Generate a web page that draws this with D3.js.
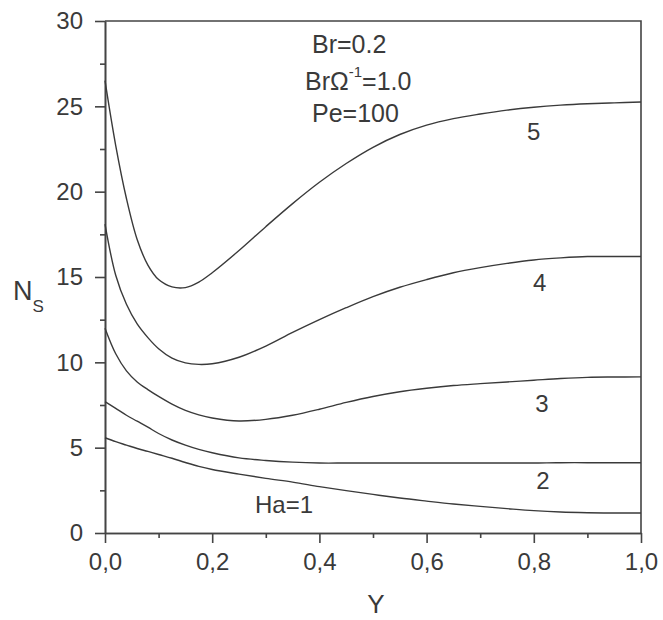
<!DOCTYPE html>
<html>
<body>
<script src="https://d3js.org/d3.v7.min.js"></script>
<style>

body {
    margin: 0;
    background: #fff;
}

svg text {
    font-family: "Liberation Sans", Arial, sans-serif;
    fill: #3a3a3a;
}

.axis path,
.axis line,
.frame {
    stroke: #444;
    stroke-width: 1.6;
    fill: none;
}

.curve {
    fill: none;
    stroke: #3a3a3a;
    stroke-width: 1.4;
}

</style>

<script>

var yPoints = [0, 0.02, 0.04, 0.06, 0.08, 0.1, 0.125, 0.15, 0.175, 0.2, 0.25, 0.3, 0.35,
               0.4, 0.45, 0.5, 0.55, 0.6, 0.65, 0.7, 0.75, 0.8, 0.85, 0.9, 0.95, 1.0];

// entropy generation number Ns, one array per Hartmann number
var ha1 = [5.58, 5.35, 5.15, 4.95, 4.78, 4.6, 4.38, 4.13, 3.9, 3.72, 3.45, 3.2, 2.98,
           2.72, 2.48, 2.26, 2.05, 1.87, 1.7, 1.56, 1.43, 1.31, 1.23, 1.19, 1.17, 1.17];
var ha2 = [7.7, 7.3, 6.9, 6.55, 6.2, 5.83, 5.45, 5.15, 4.9, 4.7, 4.4, 4.25, 4.15,
           4.1, 4.1, 4.1, 4.1, 4.1, 4.1, 4.1, 4.1, 4.1, 4.12, 4.12, 4.12, 4.12];
var ha3 = [12.0, 10.5, 9.5, 8.85, 8.4, 8.0, 7.55, 7.18, 6.92, 6.74, 6.56, 6.66, 6.9,
           7.25, 7.65, 8.0, 8.28, 8.48, 8.64, 8.75, 8.85, 8.95, 9.05, 9.12, 9.14, 9.15];
var ha4 = [18.1, 15.1, 13.4, 12.25, 11.45, 10.8, 10.25, 9.97, 9.88, 9.92, 10.3, 10.95, 11.75,
           12.5, 13.2, 13.85, 14.4, 14.85, 15.25, 15.55, 15.8, 16.0, 16.12, 16.2, 16.2, 16.2];
var ha5 = [26.5, 22.7, 19.6, 17.2, 15.7, 14.85, 14.42, 14.38, 14.7, 15.25, 16.55, 17.95, 19.3,
           20.55, 21.65, 22.6, 23.35, 23.9, 24.28, 24.55, 24.78, 24.95, 25.07, 25.15, 25.2, 25.25];

var curveLabels = ["Ha=1", "2", "3", "4", "5"];
var labelY = [0.334, 0.817, 0.815, 0.811, 0.80];
var labelNs = [1.7, 3.1, 7.6, 14.7, 23.55];

var xMajor = [0, 0.2, 0.4, 0.6, 0.8, 1.0];
var xMinor = [0.1, 0.3, 0.5, 0.7, 0.9];
var yMajor = [0, 5, 10, 15, 20, 25, 30];
var yMinor = [2.5, 7.5, 12.5, 17.5, 22.5, 27.5];

var width = 663,
    height = 620;

var svg = d3.select("body").append("svg")
    .attr("width", width)
    .attr("height", height);

var xScale = d3.scaleLinear()
    .domain([0, 1])
    .range([105, 641]);

var yScale = d3.scaleLinear()
    .domain([0, 30])
    .range([533, 21]);

var commaFmt = function(d) { return d3.format(".1f")(d).replace(".", ","); };

// minor ticks first, no labels
svg.append("g")
    .attr("class", "axis")
    .attr("transform", "translate(0," + yScale(0) + ")")
    .call(d3.axisBottom(xScale).tickValues(xMinor).tickSize(5).tickSizeOuter(0).tickFormat(""));

svg.append("g")
    .attr("class", "axis")
    .attr("transform", "translate(" + xScale(0) + ",0)")
    .call(d3.axisLeft(yScale).tickValues(yMinor).tickSize(5).tickSizeOuter(0).tickFormat(""));

svg.append("g")
    .attr("class", "axis")
    .attr("transform", "translate(0," + yScale(0) + ")")
    .call(d3.axisBottom(xScale).tickValues(xMajor).tickSize(10).tickSizeOuter(0)
        .tickPadding(10).tickFormat(commaFmt));

svg.append("g")
    .attr("class", "axis")
    .attr("transform", "translate(" + xScale(0) + ",0)")
    .call(d3.axisLeft(yScale).tickValues(yMajor).tickSize(10).tickSizeOuter(0)
        .tickPadding(12));

svg.selectAll(".axis text")
    .attr("fill", null)
    .style("font-size", "24px");

// top and right frame
svg.append("path")
    .attr("class", "frame")
    .attr("d", "M" + xScale(0) + "," + yScale(30) + "H" + xScale(1) + "V" + yScale(0));

// curves
var series = [ha1, ha2, ha3, ha4, ha5];

var line = d3.line()
    .x(function(d, i) { return xScale(yPoints[i]); })
    .y(function(d) { return yScale(d); })
    .curve(d3.curveCatmullRom.alpha(0.5));

svg.selectAll(".curve")
    .data(series)
  .enter().append("path")
    .attr("class", "curve")
    .attr("d", line);

svg.selectAll(".curve-label")
    .data(curveLabels)
  .enter().append("text")
    .attr("class", "curve-label")
    .attr("x", function(d, i) { return xScale(labelY[i]); })
    .attr("y", function(d, i) { return yScale(labelNs[i]); })
    .attr("dy", "0.36em")
    .attr("text-anchor", "middle")
    .style("font-size", "24px")
    .text(function(d) { return d; });

// parameters
var params = svg.append("g").style("font-size", "25px");

params.append("text")
    .attr("x", 312).attr("y", 53)
    .text("Br=0.2");

var brText = params.append("text")
    .attr("x", 305).attr("y", 90);
brText.append("tspan").text("BrΩ");
brText.append("tspan").attr("dy", -13).style("font-size", "15px").text("-1");
brText.append("tspan").attr("dy", 13).text("=1.0");

params.append("text")
    .attr("x", 312).attr("y", 122)
    .text("Pe=100");

// axis titles
var yTitle = svg.append("text")
    .attr("x", 13).attr("y", 300)
    .style("font-size", "27px");
yTitle.append("tspan").text("N");
yTitle.append("tspan").attr("dy", 12).style("font-size", "17px").text("S");

svg.append("text")
    .attr("x", (xScale(0) + xScale(1)) / 2 + 3)
    .attr("y", 613)
    .attr("text-anchor", "middle")
    .style("font-size", "26px")
    .text("Y");

</script>
</body>
</html>
